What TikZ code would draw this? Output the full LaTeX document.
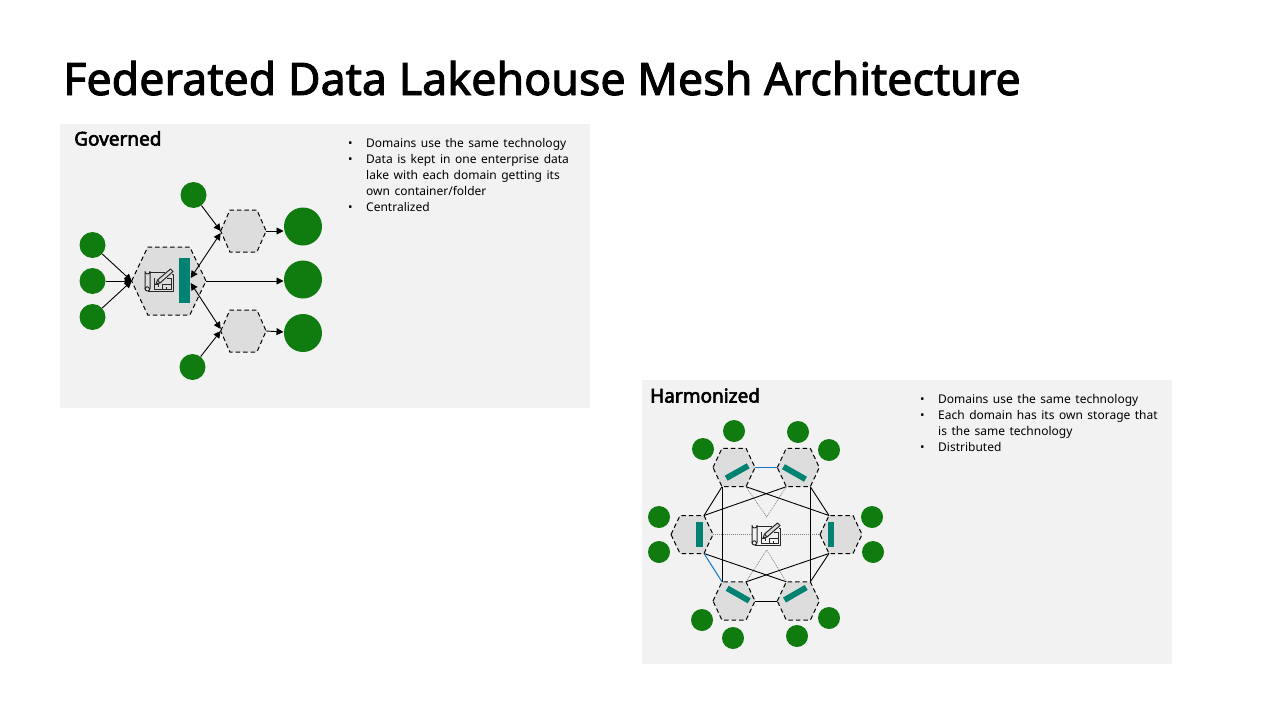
\documentclass[tikz,border=0pt]{standalone}
\usepackage{fontspec}
\setmainfont{Noto Sans}[WordSpace=1.45]
\newfontfamily\titlefont{Noto Sans}[FakeBold=2.2]
\newfontfamily\headfont{Noto Sans}[FakeBold=3.2]
\usetikzlibrary{arrows.meta}
\definecolor{panel}{HTML}{F2F2F2}
\definecolor{hexfill}{HTML}{DDDDDD}
\definecolor{dgreen}{HTML}{107C10}
\definecolor{dteal}{HTML}{008272}
\definecolor{dblue}{HTML}{1078C8}
\newcommand\blk[2]{\parbox[t]{#1pt}{\raggedright #2}}
\tikzset{
  x=1pt,y=-1pt,
  panelbox/.style={fill=panel,draw=none},
  hexline/.style={draw=black,fill=hexfill,line width=1pt,dash pattern=on 4.5pt off 3pt},
  hexanchor/.style={inner sep=0pt,minimum size=1pt},
  dotc/.style={circle,fill=dgreen,draw=none,inner sep=0pt,minimum size=#1},
  dotc/.default=26pt,
  flow/.style={draw=black,line width=0.9pt,-{Triangle[length=7pt,width=7pt]}},
  flowboth/.style={draw=black,line width=0.9pt,{Triangle[length=7pt,width=7pt]}-{Triangle[length=7pt,width=7pt]}},
  meshline/.style={draw=black,line width=0.9pt},
  meshblue/.style={draw=dblue,line width=1pt},
  meshdot/.style={draw=black!50,line width=0.7pt,dash pattern=on 1pt off 1pt},
  bar/.style={draw=none,fill=dteal},
  slant/.style={draw=dteal,line width=5.8pt},
  icon/.style={draw=black!85,line width=1pt,fill=none,line join=round},
  titletext/.style={anchor=base west,inner sep=0pt,font=\titlefont\fontsize{44.8}{50}\selectfont},
  heading/.style={anchor=base west,inner sep=0pt,font=\headfont\fontsize{19}{22}\selectfont},
  body/.style={anchor=base west,inner sep=0pt,font=\fontsize{12}{16}\selectfont},
  bullet/.style={anchor=base west,inner sep=0pt,font=\fontsize{12}{16}\selectfont},
  blueprint/.pic={
    \draw[icon] (5,4) -- (20,4) (27,6) -- (28,6) -- (28,23) -- (3,23);
    \draw[icon] (0,3.5) arc[start angle=180,end angle=0,radius=2.5] -- (5,20.5) arc[start angle=0,end angle=180,radius=2.5] -- cycle;
    \draw[icon] (0,20.5) -- (0,21) arc[start angle=180,end angle=360,radius=2.2];
    \draw[icon] (9,10) -- (9,21) -- (26,21) -- (26,10) -- (22,10);
    \draw[icon] (9,16) -- (13,16) -- (13,18.5) (17,21) -- (17,16) -- (26,16) (21.5,21) -- (21.5,18.5);
    \draw[icon,fill=hexfill] (11,16) -- (12.5,12) -- (25.5,1) -- (28,3.5) -- (15,15) -- cycle;
    \draw[icon] (12.5,12) -- (15,15);
  }
}
\newcommand\hexnode[6]{%
  \begin{scope}[shift={(#2,#3)}]
    \coordinate (#1-w) at (-#4,0);
    \coordinate (#1-e) at (#4,0);
    \coordinate (#1-tl) at (-#5,-#6);
    \coordinate (#1-tr) at (#5,-#6);
    \coordinate (#1-bl) at (-#5,#6);
    \coordinate (#1-br) at (#5,#6);
    \path[hexline] (#1-w) -- (#1-tl) -- (#1-tr) -- (#1-e) -- (#1-br) -- (#1-bl) -- cycle;
    \node[hexanchor] (#1) at (0,0) {};
  \end{scope}}
\begin{document}
\begin{tikzpicture}
\useasboundingbox (0,0) rectangle (1280,720);
\fill[white] (0,0) rectangle (1280,720);
\node[titletext] (title) at (63,95) {Federated Data Lakehouse Mesh Architecture};

% panels
\path[panelbox] (60,124) rectangle (590,408);
\path[panelbox] (642,380) rectangle (1172,664);

% ---- Governed
\node[heading] (gh) at (74,145.5) {Governed};
\node[bullet] (gb1) at (348,147.3) {•};
\node[body] (gt1) at (366,147.3) {Domains use the same technology};
\node[bullet] (gb2) at (348,163.3) {•};
\node[body] (gt2) at (366,163.3) {\blk{215}{Data is kept in one enterprise data\\lake with each domain getting its\\own container/folder}};
\node[bullet] (gb3) at (348,211.3) {•};
\node[body] (gt3) at (366,211.3) {Centralized};

\hexnode{big}{168.8}{281}{37.2}{21}{34}
\hexnode{hu}{243.4}{231}{22.7}{13.5}{21}
\hexnode{hd}{243.4}{331}{22.7}{13.5}{21}
\coordinate (binu) at (190.7,278);
\coordinate (bind) at (190.7,283);
\coordinate (huin) at (220.7,233);
\coordinate (hdin) at (220.7,329);
\coordinate (huw) at (220.7,231);
\coordinate (hdw) at (220.7,331);

\path[bar] (179,258) rectangle (190,302.7);
\pic at (145,268) {blueprint};

\node[dotc] (l1) at (92.5,245) {};
\node[dotc] (l2) at (92.5,281) {};
\node[dotc] (l3) at (92.5,317) {};
\node[dotc] (ct) at (193.5,195) {};
\node[dotc] (cb) at (192.5,367) {};
\node[dotc=38pt] (r1) at (303,226.5) {};
\node[dotc=38pt] (r2) at (303,279.5) {};
\node[dotc=38pt] (r3) at (303,333) {};

\draw[flow] (l1) -- (big-w);
\draw[flow] (l2) -- (big-w);
\draw[flow] (l3) -- (big-w);
\draw[flow] (ct) -- (huw);
\draw[flow] (cb) -- (hdw);
\draw[flowboth] (binu) -- (huin);
\draw[flowboth] (bind) -- (hdin);
\coordinate (r2in) at (283.5,281);
\coordinate (r1in) at (283.5,231);
\coordinate (r3in) at (283.5,332);
\draw[flow] (big-e) -- (r2in);
\draw[flow] (hu-e) -- (r1in);
\draw[flow] (hd-e) -- (r3in);

% ---- Harmonized
\node[heading] (hh) at (650,402.5) {Harmonized};
\node[bullet] (hb1) at (920,403.3) {•};
\node[body] (ht1) at (938,403.3) {Domains use the same technology};
\node[bullet] (hb2) at (920,419.3) {•};
\node[body] (ht2) at (938,419.3) {\blk{225}{Each domain has its own storage that\\is the same technology}};
\node[bullet] (hb3) at (920,451.3) {•};
\node[body] (ht3) at (938,451.3) {Distributed};

\hexnode{tl}{734}{467.5}{21}{12}{19.2}
\hexnode{tr}{798.3}{467.5}{21}{12}{19.2}
\hexnode{ml}{692}{534.5}{21}{12}{19}
\hexnode{mr}{841}{534.5}{21}{12}{19}
\hexnode{bl}{734}{601}{21}{12}{19.2}
\hexnode{br}{798.3}{601}{21}{12}{19.2}

\coordinate (vup) at (766.7,517);
\coordinate (vdn) at (766.7,550);
\coordinate (icw) at (752,534.5);
\coordinate (ice) at (780,534.5);
\draw[meshdot] (tl-br) -- (vup) -- (tr-bl);
\draw[meshdot] (bl-tr) -- (vdn) -- (br-tl);
\draw[meshdot] (ml-e) -- (icw);
\draw[meshdot] (ice) -- (mr-w);

\draw[meshline] (bl-e) -- (br-w);
\draw[meshline] (ml-tr) -- (tl-bl);
\draw[meshline] (tr-br) -- (mr-tl);
\draw[meshline] (br-tr) -- (mr-bl);
\draw[meshline] (tl-bl) -- (bl-tl);
\draw[meshline] (tr-br) -- (br-tr);
\draw[meshline] (ml-tr) -- (tr-bl);
\draw[meshline] (tl-br) -- (mr-tl);
\draw[meshline] (ml-br) -- (br-tl);
\draw[meshline] (bl-tr) -- (mr-bl);
\draw[meshblue] (tl-e) -- (tr-w);
\draw[meshblue] (ml-br) -- (bl-tl);

\path[slant] (726.2,478.2) -- (748.2,465.8);
\path[slant] (783.5,466.7) -- (805.5,479.2);
\path[bar] (696,522) rectangle (703,546.7);
\path[bar] (828,522) rectangle (834,546.7);
\path[slant] (727.2,588.3) -- (749.2,600.8);
\path[slant] (784.5,600) -- (806.2,587.5);
\pic at (752,522) {blueprint};

\node[dotc=22pt] (a1) at (734,431) {};
\node[dotc=22pt] (a2) at (703,449) {};
\node[dotc=22pt] (a3) at (798,432) {};
\node[dotc=22pt] (a4) at (829,450) {};
\node[dotc=22pt] (a5) at (659,517) {};
\node[dotc=22pt] (a6) at (659,552) {};
\node[dotc=22pt] (a7) at (872,517) {};
\node[dotc=22pt] (a8) at (873,552) {};
\node[dotc=22pt] (a9) at (702,620) {};
\node[dotc=22pt] (a10) at (733,638) {};
\node[dotc=22pt] (a11) at (829,618) {};
\node[dotc=22pt] (a12) at (797,636) {};
\end{tikzpicture}
\end{document}
